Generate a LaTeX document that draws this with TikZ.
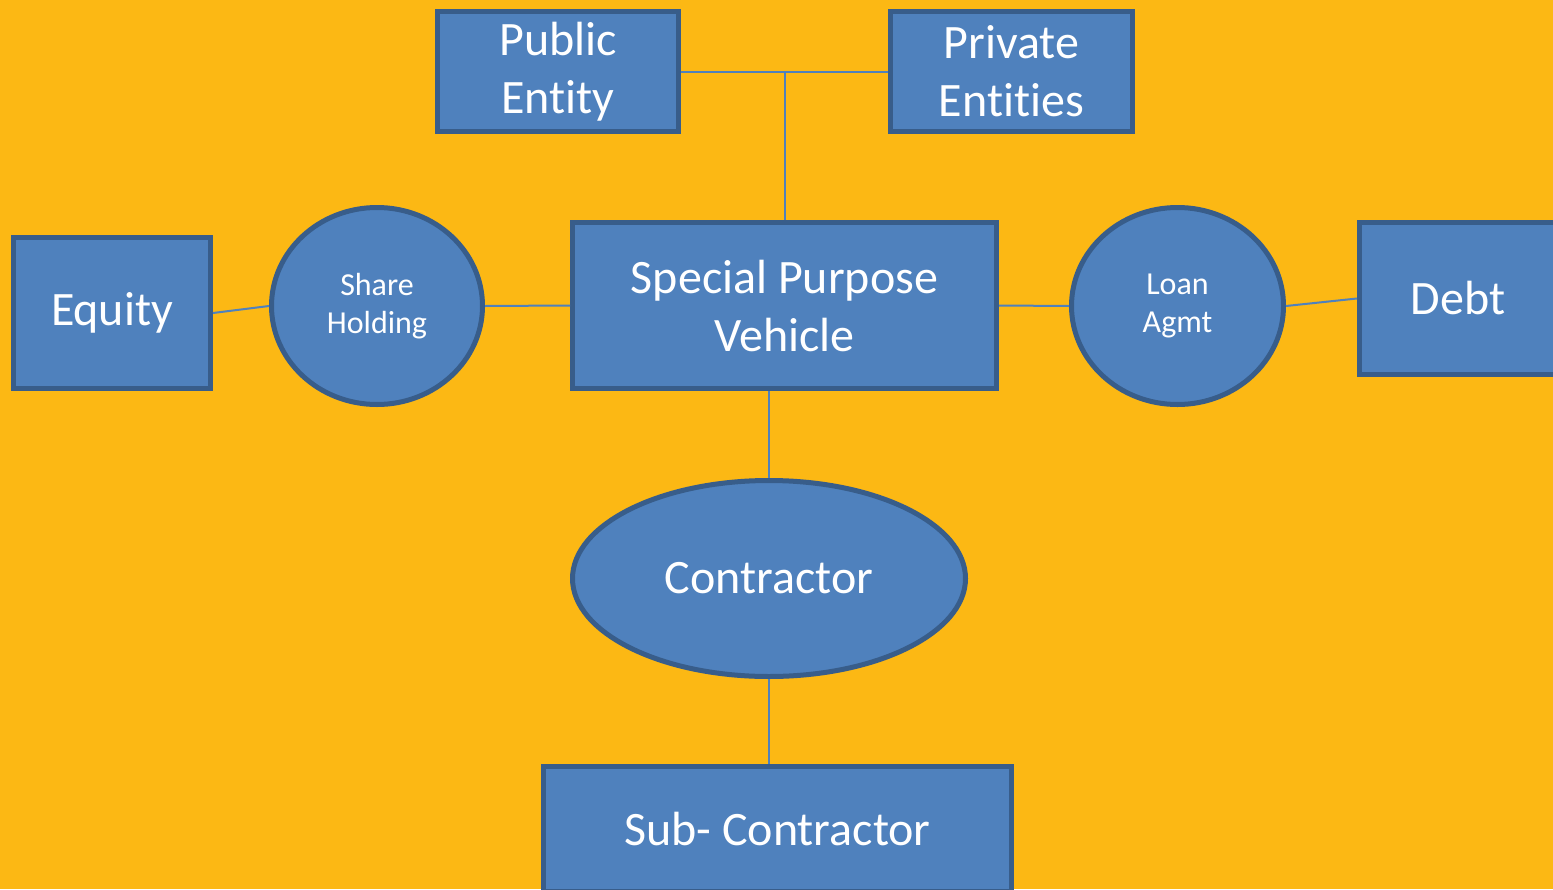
\documentclass[tikz,border=0pt]{standalone}
\usepackage{fontspec}
\setmainfont{Carlito}[Ligatures=NoCommon]
\usetikzlibrary{shapes.geometric}
\definecolor{bgorange}{HTML}{FCB814}
\definecolor{boxfill}{HTML}{4F81BD}
\definecolor{boxline}{HTML}{385D8A}
\tikzset{
  box/.style={rectangle, draw=boxline, fill=boxfill, line width=5pt,
    text=white, align=center, inner sep=0pt, font=\fontsize{48}{58}\selectfont},
  oval/.style={ellipse, draw=boxline, fill=boxfill, line width=5pt,
    text=white, align=center, inner sep=0pt},
  small/.style={font=\fontsize{32}{38}\selectfont},
  link/.style={draw=boxfill, line width=2pt}
}
\begin{document}
\begin{tikzpicture}[x=1pt,y=-1pt]
  \fill[bgorange] (0,0) rectangle (1553,889);
  \useasboundingbox (0,0) rectangle (1553,889);

  % top row
  \node[box, minimum width=241pt, minimum height=120pt] (pub) at (558,71.5) {Public\\Entity};
  \node[box, minimum width=242pt, minimum height=120pt] (priv) at (1011.5,71.5) {Private\\Entities};

  % middle row
  \node[box, minimum width=197pt, minimum height=151pt] (eq) at (112,313) {Equity};
  \node[oval, small, minimum width=211pt, minimum height=197pt] (sh) at (377,306) {Share\\Holding};
  \node[box, minimum width=424pt, minimum height=166pt] (spv) at (784.5,305.5) {Special Purpose\\Vehicle};
  \node[oval, small, minimum width=212pt, minimum height=197pt] (loan) at (1177.5,306) {Loan\\Agmt};
  \node[box, minimum width=197pt, minimum height=152pt] (debt) at (1458,298.5) {Debt};

  % lower column
  \node[oval, minimum width=393pt, minimum height=196pt,
        font=\fontsize{48}{58}\selectfont] (con) at (769,578.5) {Contractor};
  \node[box, minimum width=468pt, minimum height=125pt] (sub) at (777.5,829) {Sub- Contractor};

  % connectors
  \draw[link] (pub.east) -- (priv.west);
  \draw[link] (spv.north) -- (spv.north |- pub.east);
  \draw[link] (eq.east) -- (sh.west);
  \draw[link] (sh.east) -- (spv.west);
  \draw[link] (spv.east) -- (loan.west);
  \draw[link] (loan.east) -- (debt.west);
  \draw[link] (con.north) -- (con.north |- spv.south);
  \draw[link] (con.south) -- (con.south |- sub.north);
\end{tikzpicture}
\end{document}
